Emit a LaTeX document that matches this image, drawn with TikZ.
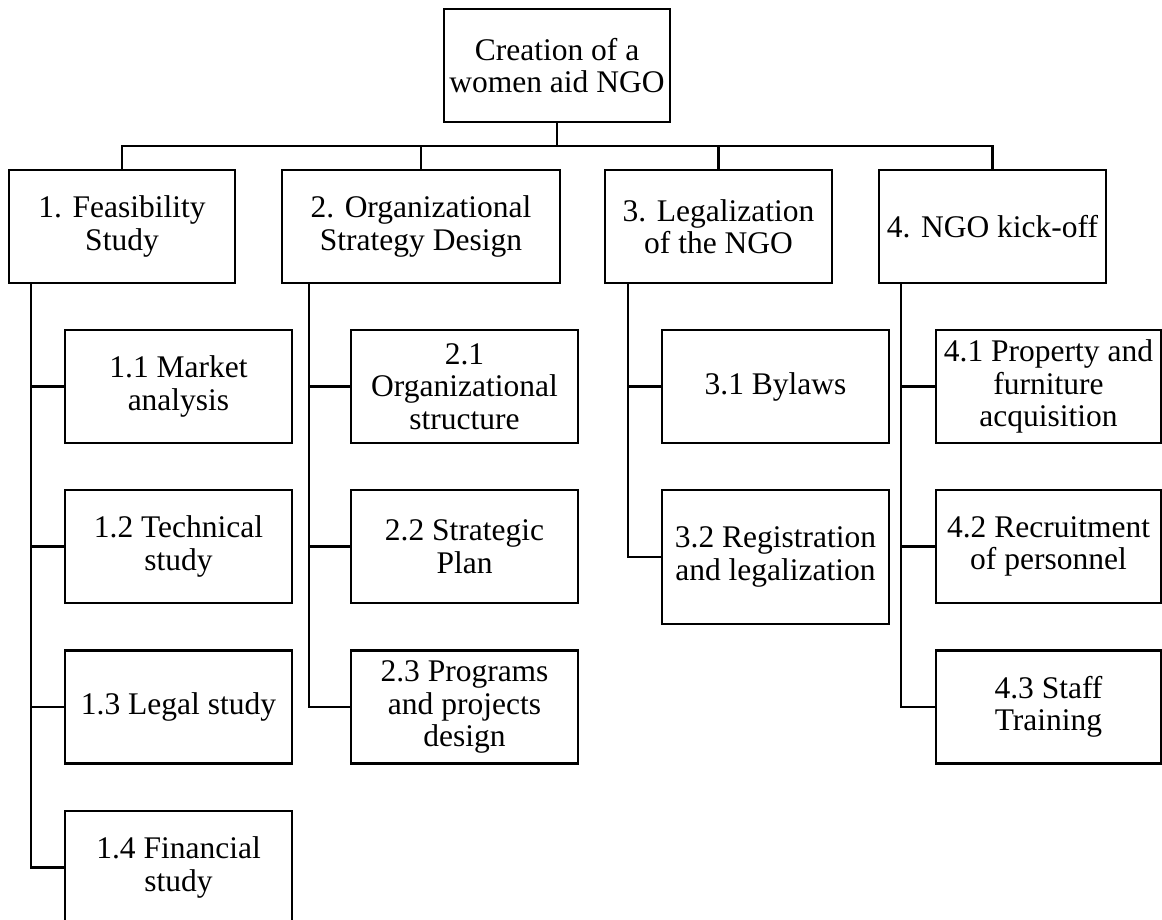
\documentclass[tikz,border=0pt]{standalone}
\usepackage{fontspec}
\setmainfont{Liberation Serif}
\begin{document}
\begin{tikzpicture}[x=1pt,y=-1pt,
  wbox/.style={draw=black, line width=2.4pt, rectangle, inner sep=0pt,
    minimum width=226pt, minimum height=113pt, align=center,
    font=\fontsize{31.5}{32.5}\selectfont},
  conn/.style={draw=black, line width=2.4pt}]
\useasboundingbox (0,0) rectangle (1162,920);
% root
\node[wbox] (root) at (557,65.5) {Creation of a\\women aid NGO};
% level 1
\node[wbox] (n1) at (122,226.5) {1. Feasibility\\Study};
\node[wbox, minimum width=278pt] (n2) at (421,226.5) {2. Organizational\\Strategy Design};
\node[wbox, minimum width=227pt] (n3) at (718.5,226.5) {3. Legalization\\of the NGO};
\node[wbox, minimum width=227pt] (n4) at (992.5,226.5) {4. NGO kick-off};
% level 2 - branch 1
\node[wbox, minimum width=227pt] (c11) at (178.5,386.5) {1.1 Market\\analysis};
\node[wbox, minimum width=227pt] (c12) at (178.5,546.5) {1.2 Technical\\study};
\node[wbox, minimum width=227pt] (c13) at (178.5,707) {1.3 Legal study};
\node[wbox, minimum width=227pt] (c14) at (178.5,867.5) {1.4 Financial\\study};
% branch 2
\node[wbox, minimum width=227pt] (c21) at (464.5,386.5) {2.1\\Organizational\\structure};
\node[wbox, minimum width=227pt] (c22) at (464.5,546.5) {2.2 Strategic\\Plan};
\node[wbox, minimum width=227pt] (c23) at (464.5,707) {2.3 Programs\\and projects\\design};
% branch 3
\node[wbox, minimum width=227pt] (c31) at (775.5,386.5) {3.1 Bylaws};
\node[wbox, minimum width=227pt, minimum height=134pt] (c32) at (775.5,557) {3.2 Registration\\and legalization};
% branch 4
\node[wbox, minimum width=225pt] (c41) at (1048.5,386.5) {4.1 Property and\\furniture\\acquisition};
\node[wbox, minimum width=225pt] (c42) at (1048.5,546.5) {4.2 Recruitment\\of personnel};
\node[wbox, minimum width=225pt] (c43) at (1048.5,707) {4.3 Staff\\Training};
% top connectors
\coordinate (bus) at (557,146);
\draw[conn] (root.south) -- (bus);
\draw[conn] (n1.north) |- (bus) -| (n4.north);
\draw[conn] (n2.north) -- (n2.north |- bus);
\draw[conn] (n3.north) -- (n3.north |- bus);
% branch trunks
\draw[conn] ([xshift=23pt]n1.south west) coordinate (t1) |- (c14.west);
\draw[conn] (c11.west) -- (c11.west -| t1);
\draw[conn] (c12.west) -- (c12.west -| t1);
\draw[conn] (c13.west) -- (c13.west -| t1);
\draw[conn] ([xshift=28pt]n2.south west) coordinate (t2) |- (c23.west);
\draw[conn] (c21.west) -- (c21.west -| t2);
\draw[conn] (c22.west) -- (c22.west -| t2);
\draw[conn] ([xshift=24pt]n3.south west) coordinate (t3) |- (c32.west);
\draw[conn] (c31.west) -- (c31.west -| t3);
\draw[conn] ([xshift=23pt]n4.south west) coordinate (t4) |- (c43.west);
\draw[conn] (c41.west) -- (c41.west -| t4);
\draw[conn] (c42.west) -- (c42.west -| t4);
\end{tikzpicture}
\end{document}
